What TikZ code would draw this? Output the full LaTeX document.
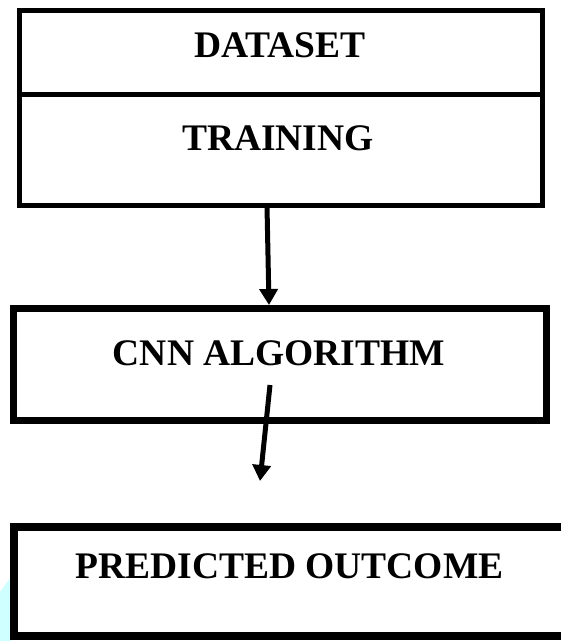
\documentclass[tikz,border=0pt]{standalone}
\usepackage{fontspec}
\setmainfont{Liberation Serif}
\usetikzlibrary{arrows.meta}
\definecolor{paleaqua}{RGB}{208,255,255}
\begin{document}
\begin{tikzpicture}[x=1pt,y=-1pt,
  box/.style={draw=black, rectangle, inner sep=0pt, outer sep=0pt},
  lbl/.style={font=\fontsize{37.5}{40}\selectfont\bfseries, anchor=base, inner sep=0pt},
  arr/.style={line width=5pt, -{Triangle[width=18pt,length=16pt]}}]
  \useasboundingbox (0,0) rectangle (561,641);
  \clip (0,0) rectangle (561,641);

  % pale strip at the lower left edge
  \fill[paleaqua] (0,592) -- (11,577) -- (11,641) -- (0,641) -- cycle;

  % dataset / training block
  \node[box, line width=5pt, minimum width=523pt, minimum height=195pt] (data) at (280.5,107.5) {};
  \path (data.north west) ++(0,84) coordinate (divl);
  \path (data.north east) ++(0,84) coordinate (divr);
  \draw[line width=5pt] (divl) -- (divr);
  \node[lbl] (dataset) at (280,57) {DATASET};
  \node[lbl] (training) at (278,150) {TRAINING};

  % CNN block
  \node[box, line width=7pt, minimum width=533pt, minimum height=112pt] (cnn) at (279.5,364) {};
  \node[lbl] (cnnlbl) at (279,365) {CNN ALGORITHM};

  % outcome block
  \node[box, line width=8pt, minimum width=556pt, minimum height=109pt] (out) at (292,581.5) {};
  \node[lbl] (outlbl) at (289.5,578) {PREDICTED OUTCOME};

  % connectors
  \coordinate (a1s) at (267,206);
  \coordinate (a1e) at (269,305);
  \draw[arr] (a1s) -- (a1e);
  \coordinate (a2s) at (270,385);
  \coordinate (a2e) at (260,481);
  \draw[arr] (a2s) -- (a2e);
\end{tikzpicture}
\end{document}
